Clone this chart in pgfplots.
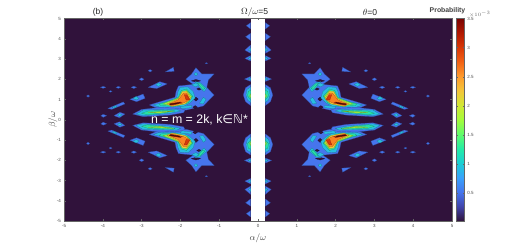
\documentclass[border=0pt]{standalone}
\usepackage{pgfplots}
\pgfplotsset{compat=1.18}
\usepackage{fontspec}
\setmainfont{Liberation Sans}
\newfontfamily\sym{DejaVu Sans}
\definecolor{bgd}{RGB}{48,18,59}
\definecolor{La}{RGB}{70,117,237}
\definecolor{Lb}{RGB}{40,190,225}
\definecolor{Lc}{RGB}{40,225,165}
\definecolor{Ld}{RGB}{164,240,60}
\definecolor{Le}{RGB}{240,200,55}
\definecolor{Lf}{RGB}{250,130,35}
\definecolor{Lg}{RGB}{215,55,10}
\definecolor{Lh}{RGB}{90,15,10}
\pgfplotsset{
 flipx/.style={x filter/.code={\pgfmathparse{-\pgfmathresult}}},
 flipy/.style={y filter/.code={\pgfmathparse{-\pgfmathresult}}},
}
\newcommand\blob[2]{%
 \addplot[fill=#1,draw=#1!65!black,line width=0.2bp,forget plot] coordinates {#2} --cycle;
 \addplot[fill=#1,draw=#1!65!black,line width=0.2bp,forget plot,flipx] coordinates {#2} --cycle;
 \addplot[fill=#1,draw=#1!65!black,line width=0.2bp,forget plot,flipy] coordinates {#2} --cycle;
 \addplot[fill=#1,draw=#1!65!black,line width=0.2bp,forget plot,flipx,flipy] coordinates {#2} --cycle;
}
\begin{document}
\begin{tikzpicture}[x=1bp,y=1bp]
\useasboundingbox (0,0) rectangle (523,249);
\begin{axis}[
 at={(64bp,28bp)},anchor=south west,
 scale only axis,width=388bp,height=202.5bp,
 xmin=-5,xmax=5,ymin=-5,ymax=5,
 xtick={-5,...,5},ytick={-5,...,5},
 tick align=inside,
 axis line style={color=black!60,line width=0.7bp},
 tick style={color=black!60,line width=0.3bp},
 major tick length=2bp,
 tick label style={font=\fontsize{4.5}{5}\selectfont,text=black!70},
 /pgf/number format/assume math mode=true,
 xticklabel style={yshift=0.5bp},
 yticklabel style={xshift=0.5bp},
 axis background/.style={fill=bgd},
 axis on top,
 xlabel={$\alpha/\omega$},ylabel={$\beta/\omega$},
 xlabel style={font=\fontsize{9.5}{10}\selectfont,text=black!75,at={(axis description cs:0.5,0)},yshift=-9bp},
 ylabel style={font=\fontsize{9.5}{10}\selectfont,text=black!75,at={(axis description cs:0,0.5)},yshift=3bp},
 colormap={turbo}{rgb255=(48,18,59) rgb255=(65,69,171) rgb255=(70,117,237) rgb255=(57,162,252) rgb255=(27,207,212) rgb255=(36,236,166) rgb255=(97,252,108) rgb255=(164,252,59) rgb255=(209,232,52) rgb255=(243,198,58) rgb255=(254,155,45) rgb255=(243,99,21) rgb255=(217,56,6) rgb255=(177,25,1) rgb255=(122,4,2)},
 point meta min=0.02,point meta max=3.5,
 colorbar,
 colorbar style={
  at={(1.0115,0)},anchor=south west,
  scale only axis,width=8bp,height=202.5bp,
  ytick={0.5,1,1.5,2,2.5,3,3.5},
  yticklabels={0.5,1,1.5,2,2.5,3,3.5},
  tick align=inside,
  major tick length=1.5bp,
  tick style={color=black!60,line width=0.3bp},
  axis line style={color=black!60,line width=0.7bp},
  yticklabel style={font=\fontsize{4.5}{5}\selectfont,text=black!70,xshift=-0.5bp},
  /pgf/number format/assume math mode=true,
 },
]
% main star region and band 1 outer contour
\blob{La}{(-2.80,0.73)(-2.53,0.89)(-2.14,1.11)(-2.11,1.40)(-2.05,1.67)(-1.80,1.72)(-1.67,1.75)(-1.86,2.00)(-1.71,2.26)(-1.60,2.57)(-1.45,2.26)(-1.13,2.26)(-1.28,1.96)(-1.32,1.60)(-1.13,1.22)(-1.41,0.68)(-1.67,0.56)(-1.84,0.48)(-2.53,0.51)}
\blob{bgd}{(-1.72,1.92)(-1.60,1.99)(-1.48,1.92)(-1.60,1.86)}
\blob{bgd}{(-1.66,1.02)(-1.60,1.12)(-1.54,1.02)(-1.60,0.92)}
\blob{bgd}{(-1.58,1.52)(-1.52,1.58)(-1.46,1.52)(-1.52,1.46)}
\blob{bgd}{(-1.68,0.62)(-1.62,0.70)(-1.56,0.62)(-1.62,0.54)}
% small teal spots in the star
\blob{Lb}{(-1.62,1.88)(-1.49,1.83)(-1.32,1.55)(-1.39,1.39)(-1.51,1.60)}
\blob{Lc}{(-1.56,1.80)(-1.49,1.78)(-1.37,1.55)(-1.42,1.49)}
\blob{Lb}{(-1.51,0.81)(-1.41,1.11)(-1.34,1.01)(-1.41,0.78)}
\blob{Lb}{(-1.65,2.25)(-1.60,2.34)(-1.55,2.25)(-1.60,2.17)}
\blob{Lb}{(-1.71,1.72)(-1.60,1.82)(-1.52,1.72)(-1.60,1.62)}
% core of band 1
\blob{Lb}{(-2.70,0.73)(-2.27,0.93)(-2.10,1.06)(-2.06,1.39)(-2.01,1.60)(-1.80,1.62)(-1.67,1.39)(-1.62,1.07)(-1.77,0.81)(-1.92,0.66)(-2.53,0.62)}
\blob{Lb}{(-2.01,0.65)(-1.71,0.71)(-1.71,0.60)(-1.97,0.55)}
\blob{Lc}{(-2.55,0.78)(-2.40,0.85)(-2.05,1.11)(-1.98,1.44)(-1.84,1.52)(-1.68,1.16)(-1.80,0.83)(-2.14,0.66)(-2.50,0.70)}
\blob{Ld}{(-2.45,0.78)(-2.35,0.86)(-2.05,1.07)(-1.96,1.36)(-1.84,1.44)(-1.71,1.14)(-1.84,0.83)(-2.18,0.68)}
\blob{Le}{(-2.35,0.78)(-2.05,1.04)(-1.95,1.40)(-1.84,1.40)(-1.73,1.04)(-1.88,0.78)(-2.22,0.66)}
\blob{Lf}{(-2.27,0.80)(-2.05,0.99)(-1.92,1.32)(-1.84,1.32)(-1.75,0.99)(-1.92,0.83)(-2.22,0.70)}
\blob{Lg}{(-1.90,1.24)(-1.84,1.24)(-1.76,1.00)(-1.85,0.97)}
\blob{Lg}{(-2.30,0.78)(-2.00,0.88)(-1.95,0.83)(-2.25,0.72)}
\blob{Lh}{(-2.27,0.78)(-2.00,0.86)(-2.05,0.80)(-2.25,0.74)}
% band 2
\blob{La}{(-3.23,0.28)(-3.00,0.51)(-2.53,0.61)(-2.01,0.56)(-1.88,0.48)(-1.92,0.35)(-2.27,0.23)(-2.96,0.15)}
\blob{Lb}{(-3.14,0.28)(-2.96,0.48)(-2.10,0.51)(-1.99,0.43)(-2.27,0.32)(-2.96,0.20)}
\blob{Lc}{(-3.00,0.32)(-2.83,0.43)(-2.18,0.47)(-2.14,0.42)(-2.53,0.32)(-2.85,0.25)}
\blob{Ld}{(-2.83,0.37)(-2.18,0.43)(-2.53,0.33)}
% outlying spots
\blob{La}{(-2.39,2.36)(-2.18,2.59)(-2.16,2.39)}
\blob{La}{(-2.83,1.60)(-2.53,1.88)(-2.34,1.77)(-2.61,1.54)}
\blob{Lb}{(-2.64,1.72)(-2.57,1.82)(-2.48,1.75)(-2.56,1.65)}
\blob{La}{(-3.30,1.01)(-2.96,1.27)(-2.91,1.06)(-3.13,0.89)}
\blob{Lb}{(-3.22,1.06)(-3.14,1.15)(-3.06,1.05)(-3.14,0.98)}
\blob{La}{(-3.87,0.56)(-3.47,0.88)(-3.43,0.78)(-3.77,0.51)}
\blob{Lb}{(-3.76,0.61)(-3.66,0.70)(-3.63,0.65)(-3.73,0.57)}
\blob{La}{(-3.71,0.20)(-3.56,0.37)(-3.43,0.28)(-3.57,0.10)}
\blob{Lb}{(-3.62,0.22)(-3.57,0.30)(-3.50,0.24)(-3.57,0.17)}
\blob{La}{(-4.05,0.20)(-3.99,0.27)(-3.90,0.20)(-3.99,0.12)}
% small dots
\blob{La}{(-4.42,1.17)(-4.38,1.23)(-4.34,1.17)(-4.38,1.11)}
\blob{La}{(-4.06,1.60)(-3.99,1.65)(-3.92,1.60)(-3.99,1.55)}
\blob{La}{(-3.66,1.60)(-3.60,1.65)(-3.54,1.60)(-3.60,1.55)}
\blob{La}{(-3.27,1.60)(-3.20,1.66)(-3.13,1.60)(-3.20,1.54)}
\blob{La}{(-3.84,1.40)(-3.80,1.44)(-3.76,1.40)(-3.80,1.36)}
\blob{La}{(-3.06,2.00)(-3.00,2.07)(-2.94,2.00)(-3.00,1.93)}
\blob{La}{(-2.83,2.42)(-2.78,2.48)(-2.73,2.42)(-2.78,2.36)}
\blob{La}{(-1.36,2.79)(-1.33,2.82)(-1.30,2.79)(-1.33,2.76)}
% blobs along the white strip
\blob{La}{(-0.19,4.80)(-0.30,4.64)(-0.19,4.48)}
\blob{La}{(-0.19,4.27)(-0.32,4.10)(-0.19,3.91)}
\blob{La}{(-0.19,3.69)(-0.34,3.44)(-0.19,3.28)}
\blob{Lb}{(-0.19,3.55)(-0.25,3.44)(-0.19,3.38)}
\blob{La}{(-0.19,3.17)(-0.34,3.03)(-0.19,2.90)}
\blob{Lb}{(-0.19,3.10)(-0.26,3.03)(-0.19,2.97)}
\blob{La}{(-0.19,2.14)(-0.35,2.01)(-0.19,1.89)}
\blob{Lb}{(-0.19,2.07)(-0.26,2.01)(-0.19,1.95)}
\blob{La}{(-0.19,1.74)(-0.32,1.58)(-0.38,1.22)(-0.32,0.89)(-0.19,0.70)}
\blob{Lb}{(-0.19,1.62)(-0.29,1.49)(-0.31,1.22)(-0.27,0.97)(-0.19,0.85)}
\blob{Lc}{(-0.19,1.45)(-0.25,1.40)(-0.27,1.17)(-0.19,1.00)}
\blob{Ld}{(-0.19,1.28)(-0.22,1.17)(-0.19,1.08)}
% white strip
\addplot[fill=white,draw=none,forget plot] coordinates {(-0.19,-5) (0.19,-5) (0.19,5) (-0.19,5)} --cycle;
\end{axis}
\node[text=white,anchor=center,font=\fontsize{12.4}{13}\selectfont] at (199.5,129) {n = m = 2k, k{\sym∈ℕ}*};
\node[font=\fontsize{8.5}{9}\selectfont,text=black!85] at (98,236.5) {(b)};
\node[font=\fontsize{8.6}{9}\selectfont,text=black!85] at (254.7,237) {$\Omega/\omega$=5};
\node[font=\fontsize{8.6}{9}\selectfont,text=black!85] at (370,236.5) {$\theta$=0};
\node[font=\bfseries\fontsize{6.9}{7}\selectfont,text=black!75] at (447.5,238) {Probability};
\node[font=\fontsize{3.8}{4}\selectfont,text=black!60,anchor=west] at (465.5,235) {$\times10^{-3}$};
\end{tikzpicture}
\end{document}
